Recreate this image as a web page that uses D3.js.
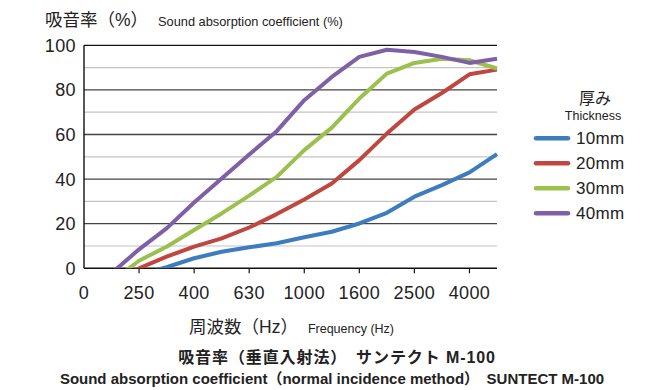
<!DOCTYPE html>
<html>
<head>
<meta charset="utf-8">
<script src="https://cdn.jsdelivr.net/npm/d3@7"></script>
<style>
  body { margin: 0; background: #fff; }
  text { font-family: "Liberation Sans", "Noto Sans CJK JP", sans-serif; fill: #222; }
</style>
</head>
<body>
<script>
// 1/3 octave bands, index 0 = 160 Hz ... 15 = 5000 Hz
let bands = ["160","200","250","315","400","500","630","800","1000","1250","1600","2000","2500","3150","4000","5000"];
let tickIdx = [0, 2, 4, 6, 8, 10, 12, 14];
let tickLabels = ["0","250","400","630","1000","1600","2500","4000"];
let yTicks = [0, 20, 40, 60, 80, 100];

let names = ["10mm", "20mm", "30mm", "40mm"];
let colors = ["#3d7dbd", "#c0473f", "#9cc04e", "#7f5fa5"];

let v10 = [null, null, -3, 0.5, 4.5, 7.4, 9.4, 11.2, 13.9, 16.4, 20.1, 24.9, 32.1, 37.3, 43, 51.2];
let v20 = [null, -6, 0, 5.2, 9.7, 13.4, 18.3, 24.3, 30.9, 38, 48.5, 60.4, 71.2, 78.6, 87, 89.1];
let v30 = [null, -6, 3.4, 9.7, 17.2, 24.6, 32.6, 41, 53, 63.1, 76.1, 87.3, 92.1, 94, 93.3, 89.6];
let v40 = [null, -2.2, 8.5, 17.9, 29.5, 40.3, 51, 61.5, 75.4, 85.8, 94.8, 98, 97, 94.8, 92.1, 94];
let series = [v10, v20, v30, v40];

function main(){
    let svg = d3.select("body").append("svg")
        .attr("width", 656)
        .attr("height", 390);

    let x = d3.scaleLinear().domain([0, bands.length - 1]).range([84, 497]);
    let y = d3.scaleLinear().domain([0, 100]).range([268.3, 45.3]);

    // grid
    let grid = d3.range(10, 101, 10);
    svg.selectAll("line.grid")
        .data(grid)
        .enter()
        .append("line")
        .attr("x1", x(0))
        .attr("x2", x(bands.length - 1))
        .attr("y1", d => y(d))
        .attr("y2", d => y(d))
        .style("stroke", d => d == 100 ? "#111" : (d % 20 == 0 ? "#444" : "#c4c4c4"))
        .style("stroke-width", d => d % 20 == 0 ? 1.3 : 1.2);

    // axes
    svg.append("line")
        .attr("x1", x(0)).attr("x2", x(0))
        .attr("y1", y(100)).attr("y2", y(0))
        .style("stroke", "#111").style("stroke-width", 1.4);
    svg.append("line")
        .attr("x1", x(0)).attr("x2", x(bands.length - 1))
        .attr("y1", y(0)).attr("y2", y(0))
        .style("stroke", "#111").style("stroke-width", 1.4);

    svg.selectAll("line.xtick")
        .data(tickIdx.slice(1))
        .enter()
        .append("line")
        .attr("x1", d => x(d)).attr("x2", d => x(d))
        .attr("y1", y(0)).attr("y2", y(0) + 5)
        .style("stroke", "#111").style("stroke-width", 1.2);

    svg.selectAll("text.xlab")
        .data(tickIdx)
        .enter()
        .append("text")
        .attr("x", d => x(d))
        .attr("y", 298.5)
        .attr("text-anchor", "middle")
        .style("font-size", "18px")
        .style("letter-spacing", "0.4px")
        .text((d, i) => tickLabels[i]);

    svg.selectAll("text.ylab")
        .data(yTicks)
        .enter()
        .append("text")
        .attr("x", 76)
        .attr("y", d => y(d) + 6.5)
        .attr("text-anchor", "end")
        .style("font-size", "18px")
        .style("letter-spacing", "0.4px")
        .text(d => d);

    // lines
    svg.append("clipPath").attr("id", "plot")
        .append("rect")
        .attr("x", x(0)).attr("y", 30)
        .attr("width", x(bands.length - 1) - x(0) + 3)
        .attr("height", y(0) - 30);

    let line = d3.line()
        .defined(d => d != null)
        .x((d, i) => x(i))
        .y(d => y(d));

    svg.append("g").attr("clip-path", "url(#plot)")
        .selectAll("path")
        .data(series)
        .enter()
        .append("path")
        .attr("d", line)
        .style("fill", "none")
        .style("stroke", (d, i) => colors[i])
        .style("stroke-width", 4)
        .style("stroke-linejoin", "round");

    // titles
    let t = svg.append("text").attr("x", 45).attr("y", 26);
    t.append("tspan").style("font-size", "17.5px").text("吸音率（%）");
    t.append("tspan").attr("dx", 10).style("font-size", "12.8px").text("Sound absorption coefficient (%)");

    let xt = svg.append("text").attr("x", 189).attr("y", 333);
    xt.append("tspan").style("font-size", "17.5px").text("周波数（Hz）");
    xt.append("tspan").attr("dx", 10).style("font-size", "12.5px").text("Frequency (Hz)");

    svg.append("text")
        .attr("x", 337).attr("y", 363)
        .attr("text-anchor", "middle")
        .style("font-size", "16px").style("font-weight", "bold")
        .style("letter-spacing", "0.9px")
        .text("吸音率（垂直入射法）　サンテクト M-100");
    svg.append("text")
        .attr("x", 332).attr("y", 384)
        .attr("text-anchor", "middle")
        .style("font-size", "15px").style("font-weight", "bold")
        .text("Sound absorption coefficient（normal incidence method）　SUNTECT M-100");

    // legend
    svg.append("text")
        .attr("x", 595).attr("y", 104)
        .attr("text-anchor", "middle")
        .style("font-size", "16px")
        .text("厚み");
    svg.append("text")
        .attr("x", 593).attr("y", 120)
        .attr("text-anchor", "middle")
        .style("font-size", "12.5px")
        .text("Thickness");

    let leg = svg.selectAll("g.leg")
        .data(names)
        .enter()
        .append("g")
        .attr("transform", (d, i) => "translate(0," + (138.3 + i * 25) + ")");
    leg.append("line")
        .attr("x1", 536).attr("x2", 568)
        .style("stroke", (d, i) => colors[i])
        .style("stroke-width", 4.5)
        .style("stroke-linecap", "round");
    leg.append("text")
        .attr("x", 576).attr("y", 6)
        .style("font-size", "17px")
        .style("letter-spacing", "0.3px")
        .text(d => d);
}

main();
</script>
</body>
</html>
